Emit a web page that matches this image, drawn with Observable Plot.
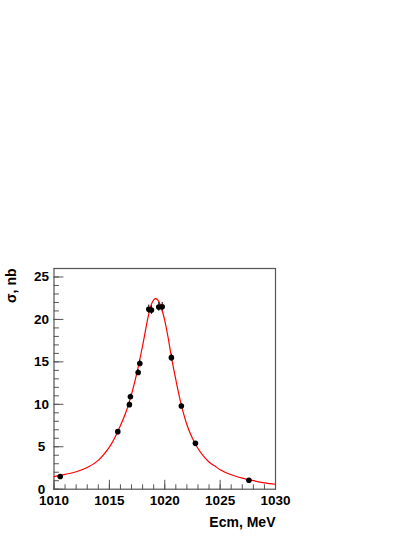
<!DOCTYPE html>
<html>
<head>
<meta charset="utf-8">
<script src="https://cdn.jsdelivr.net/npm/d3@7"></script>
<script src="https://cdn.jsdelivr.net/npm/@observablehq/plot@0.6"></script>
<style>
  html, body { margin: 0; padding: 0; background: #fff; }
  svg { display: block; }
</style>
</head>
<body>
<div id="chart"></div>
<script>
// Measured points
const energy   = [1010.56, 1015.76, 1016.81, 1016.9, 1017.6, 1017.75, 1018.56, 1018.8, 1019.46, 1019.77, 1020.6, 1021.5, 1022.77, 1027.6];
const sigma    = [1.49, 6.78, 9.96, 10.9, 13.75, 14.8, 21.2, 21.1, 21.47, 21.5, 15.5, 9.8, 5.4, 1.06];
const sigmaErr = [0.1, 0.2, 0.3, 0.3, 0.35, 0.4, 0.5, 0.5, 0.5, 0.5, 0.4, 0.3, 0.15, 0.08];

// Fit curve
const fitE     = [1010, 1011, 1012, 1013, 1014, 1015, 1015.5, 1016, 1016.5, 1017, 1017.5, 1018, 1018.5, 1018.8, 1019.0, 1019.2, 1019.4, 1019.6, 1019.8, 1020.0, 1020.3, 1020.6, 1021.0, 1021.5, 1022.0, 1022.5, 1023.0, 1023.5, 1024.0, 1024.5, 1025, 1026, 1027, 1028, 1029, 1030];
const fitSigma = [1.48, 1.75, 2.05, 2.55, 3.4, 4.95, 6.1, 7.5, 9.1, 11.2, 13.8, 16.9, 20.3, 21.8, 22.3, 22.45, 22.25, 21.7, 20.9, 19.9, 17.9, 15.6, 12.9, 9.9, 7.6, 6.0, 4.8, 3.9, 3.2, 2.75, 2.3, 1.7, 1.3, 1.0, 0.75, 0.58];

// Axis ticks
const xTicks = [1010, 1015, 1020, 1025, 1030];
const yTicks = [0, 5, 10, 15, 20, 25];
const xMinor = d3.range(1010, 1031, 1);
const yMinor = d3.range(0, 27, 1);

const xTitle = "Ecm, MeV";
const yTitle = "σ, nb";

const points = energy.map((e, i) => ({e, s: sigma[i], err: sigmaErr[i]}));
const fit = fitE.map((e, i) => ({e, s: fitSigma[i]}));

const tickShape = {draw(context, l) { context.moveTo(0, 0); context.lineTo(0, -l); }};
const axisColor = "#555";

const chart = Plot.plot({
  width: 415,
  height: 537,
  marginLeft: 53.5,
  marginRight: 140,
  marginTop: 268,
  marginBottom: 48.3,
  style: {fontFamily: "'Liberation Sans', Arial, Helvetica, sans-serif", fontSize: "13.5px", fontWeight: "bold", color: "#000", background: "#fff"},
  x: {domain: [1010, 1030], axis: null},
  y: {domain: [0, 26], axis: null},
  marks: [
    Plot.frame({stroke: axisColor, strokeWidth: 1.2}),
    // bottom ticks
    Plot.vector(xMinor, {x: d => d, frameAnchor: "bottom", length: 4.5, rotate: 0, anchor: "start", shape: tickShape, stroke: axisColor, strokeWidth: 1}),
    Plot.vector(xTicks, {x: d => d, frameAnchor: "bottom", length: 9, rotate: 0, anchor: "start", shape: tickShape, stroke: axisColor, strokeWidth: 1}),
    // left ticks
    Plot.vector(yMinor, {y: d => d, frameAnchor: "left", length: 4.5, rotate: 90, anchor: "start", shape: tickShape, stroke: axisColor, strokeWidth: 1}),
    Plot.vector(yTicks, {y: d => d, frameAnchor: "left", length: 9, rotate: 90, anchor: "start", shape: tickShape, stroke: axisColor, strokeWidth: 1}),
    // tick labels
    Plot.text(xTicks, {x: d => d, text: d => String(d), frameAnchor: "bottom", dy: 11, textAnchor: "middle", lineAnchor: "middle", fill: "#000"}),
    Plot.text(yTicks, {y: d => d, text: d => String(d), frameAnchor: "left", dx: -12.5, textAnchor: "middle", lineAnchor: "middle", fill: "#000"}),
    // titles
    Plot.text([xTitle], {text: d => d, frameAnchor: "bottom-right", dy: 33, textAnchor: "end", lineAnchor: "middle", fontSize: 14, fill: "#000"}),
    Plot.text([yTitle], {text: d => d, frameAnchor: "top-left", dx: -42, rotate: -90, textAnchor: "end", lineAnchor: "middle", fontSize: 14, fill: "#000"}),
    // fit curve
    Plot.line(fit, {x: "e", y: "s", curve: "catmull-rom", stroke: "#ff0000", strokeWidth: 1.2}),
    // error bars and points
    Plot.ruleX(points, {x: "e", y1: d => d.s - d.err, y2: d => d.s + d.err, stroke: "#000", strokeWidth: 1}),
    Plot.dot(points, {x: "e", y: "s", r: 2.8, fill: "#000", stroke: "none"})
  ]
});
document.getElementById("chart").appendChild(chart);
</script>
</body>
</html>
